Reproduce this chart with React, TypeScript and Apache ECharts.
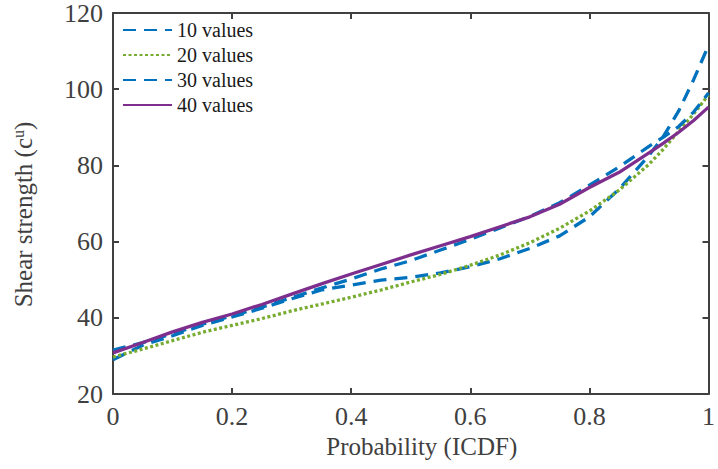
import React, { useEffect, useRef } from "react";
import * as echarts from "echarts";

const probability = [0, 0.05, 0.1, 0.15, 0.2, 0.25, 0.3, 0.35, 0.4, 0.45, 0.5, 0.55, 0.6, 0.65, 0.7, 0.75, 0.8, 0.85, 0.9, 0.925, 0.95, 0.975, 1];

const values10 = [29, 32.8, 35.3, 38, 40.2, 42.5, 45, 47.3, 48.6, 49.9, 50.6, 51.8, 53.4, 55.5, 58.2, 61.5, 66.5, 73.8, 82.6, 87.8, 94.3, 102.5, 111.5];
const values20 = [29.7, 31.8, 34, 36.2, 38, 39.8, 41.8, 43.6, 45.4, 47.3, 49.4, 51.4, 53.8, 56.5, 59.7, 63.5, 68, 73.5, 80.3, 84.4, 89, 93.5, 98.5];
const values30 = [31.5, 33.5, 35.8, 38.3, 40.5, 42.8, 45.3, 47.8, 50.2, 52.8, 55, 57.8, 60.6, 63.6, 66.6, 70.2, 74.8, 79.6, 85, 87.5, 90.2, 94, 99];
const values40 = [30.8, 33.5, 36.3, 38.8, 41, 43.5, 46.2, 48.9, 51.5, 54, 56.5, 58.9, 61.3, 63.9, 66.5, 69.8, 74.2, 78.2, 83.3, 85.9, 88.7, 91.8, 95.3];

const seriesNames = ["10 values", "20 values", "30 values", "40 values"];
const yTicks = { min: 20, max: 120, interval: 20 };
const xTicks = { min: 0, max: 1, interval: 0.2 };

const FONT = "Liberation Serif";
const AXIS = "#404040";

function pairs(ys: number[]) {
  return probability.map((x, i) => [x, ys[i]]);
}

export default function App() {
  const ref = useRef<HTMLDivElement>(null);
  useEffect(() => {
    if (!ref.current) return;
    const chart = echarts.init(ref.current, undefined, { renderer: "svg" });
    const axisCommon = {
      axisLine: { show: true, onZero: false, lineStyle: { color: AXIS, width: 2 } },
      axisTick: { show: true, inside: true, length: 6, lineStyle: { color: AXIS, width: 2 } },
      splitLine: { show: false },
    };
    const styles = [
      { color: "#0072BD", type: [13, 8], width: 3.3 },
      { color: "#77AC30", type: [3, 2.5], width: 3.3 },
      { color: "#0072BD", type: [13, 8], width: 3.3 },
      { color: "#7E2F8E", type: "solid", width: 3.3 },
    ];
    const data = [values10, values20, values30, values40];
    chart.setOption({
      animation: false,
      backgroundColor: "#ffffff",
      textStyle: { fontFamily: FONT },
      grid: { left: 113, right: 5, top: 13, bottom: 75 },
      legend: {
        orient: "vertical",
        left: 117,
        top: 15,
        itemWidth: 49,
        itemHeight: 20,
        itemGap: 5,
        data: seriesNames,
        itemStyle: { opacity: 0 },
        textStyle: { fontFamily: FONT, fontSize: 20, color: "#1a1a1a", lineHeight: 20 },
      },
      xAxis: [
        {
          type: "value",
          ...xTicks,
          ...axisCommon,
          name: "Probability (ICDF)",
          nameLocation: "middle",
          nameGap: 25,
          nameTextStyle: { fontFamily: FONT, fontSize: 25, color: AXIS, padding: [0, 0, 0, 22] },
          axisLabel: { fontFamily: FONT, fontSize: 26, color: AXIS, margin: 9 },
        },
        {
          type: "value",
          position: "top",
          ...xTicks,
          ...axisCommon,
          axisLabel: { show: false },
        },
      ],
      yAxis: [
        {
          type: "value",
          ...yTicks,
          ...axisCommon,
          name: "Shear strength (c{sub|u})",
          nameLocation: "middle",
          nameGap: 77,
          nameTextStyle: {
            fontFamily: FONT,
            fontSize: 25,
            color: AXIS,
            lineHeight: 26,
            padding: [0, 22, 0, 0],
            rich: { sub: { fontFamily: FONT, fontSize: 16, color: AXIS, verticalAlign: "top", lineHeight: 26 } },
          },
          axisLabel: { fontFamily: FONT, fontSize: 26, color: AXIS, margin: 10 },
        },
        {
          type: "value",
          position: "right",
          ...yTicks,
          ...axisCommon,
          axisLabel: { show: false },
        },
      ],
      series: seriesNames.map((name, i) => ({
        name,
        type: "line",
        data: pairs(data[i]),
        showSymbol: false,
        symbol: "none",
        smooth: false,
        lineStyle: styles[i],
        itemStyle: { color: styles[i].color },
        z: i === 3 ? 3 : 2,
      })),
    });
    return () => chart.dispose();
  }, []);
  return <div ref={ref} style={{ width: 718, height: 469, position: "absolute", left: 0, top: 0 }} />;
}
